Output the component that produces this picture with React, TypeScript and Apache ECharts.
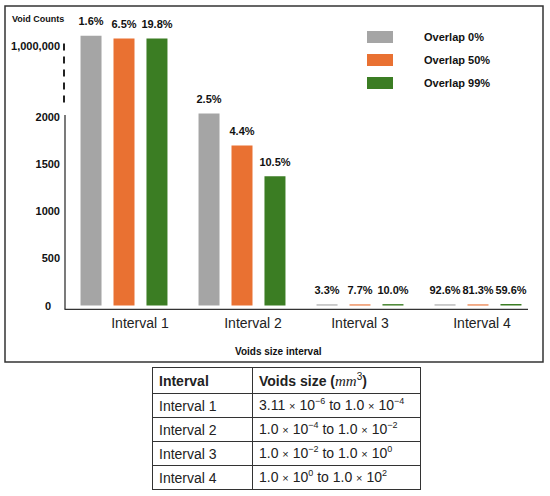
import React, { useEffect, useRef } from 'react';
import * as echarts from 'echarts';

// ---------- data ----------
const categories = ['Interval 1', 'Interval 2', 'Interval 3', 'Interval 4'];
const seriesNames = ['Overlap 0%', 'Overlap 50%', 'Overlap 99%'];
const overlap0 = [1000115, 2037, 12, 12];
const overlap50 = [1000085, 1698, 12, 12];
const overlap99 = [1000085, 1370, 15, 15];
const overlap0Pct = ['1.6%', '2.5%', '3.3%', '92.6%'];
const overlap50Pct = ['6.5%', '4.4%', '7.7%', '81.3%'];
const overlap99Pct = ['19.8%', '10.5%', '10.0%', '59.6%'];
const yTickValues = [0, 500, 1000, 1500, 2000, 1000000];
const yAxisName = 'Void Counts';
const xAxisName = 'Voids size interval';

// axis range and break (values)
const Y_MIN = -40;
const Y_MAX = 1000125;
const BREAK_START = 2150;
const BREAK_END = 999950;
const AXIS_SOLID_END = 2020;
const DASH_FROM = 2120;
const DASH_TO = 1000032;

// table
const tableHeadInterval = 'Interval';
const tableHeadSize = 'Voids size';
const tableIntervals = ['Interval 1', 'Interval 2', 'Interval 3', 'Interval 4'];
const rangeFromMantissa = ['3.11', '1.0', '1.0', '1.0'];
const rangeFromExponent = ['−6', '−4', '−2', '0'];
const rangeToMantissa = ['1.0', '1.0', '1.0', '1.0'];
const rangeToExponent = ['−4', '−2', '0', '2'];

const COLORS = ['#a5a5a5', '#e97132', '#3b7d23'];
const FONT = "'Liberation Sans', Arial, Helvetica, sans-serif";

function makeSeries(name: string, values: number[], pct: string[], color: string) {
  return {
    name,
    type: 'bar',
    data: values,
    barWidth: 21,
    barGap: '57%',
    itemStyle: { color },
    label: {
      show: true,
      position: 'top',
      distance: 9,
      fontSize: 11,
      fontWeight: 'bold',
      color: '#111',
      fontFamily: FONT,
      formatter: (p: any) => pct[p.dataIndex],
    },
  };
}

const labelShift = [32, 22, 0, 8];

function buildOption(): any {
  const rich: any = {};
  labelShift.forEach((s, i) => {
    rich['p' + i] = { padding: [0, 0, 0, s], fontSize: 14, color: '#222', fontFamily: FONT };
  });
  const yRich = {
    z: { padding: [0, 9, 0, 0], fontSize: 11, fontWeight: 'bold', color: '#111', fontFamily: FONT },
  };
  return {
    animation: false,
    textStyle: { fontFamily: FONT },
    title: [
      {
        text: yAxisName,
        left: 12,
        top: 14,
        padding: 0,
        textStyle: { fontSize: 9, fontWeight: 'bold', color: '#111', fontFamily: FONT },
      },
      {
        text: xAxisName,
        left: 235,
        top: 346,
        padding: 0,
        textStyle: { fontSize: 10, fontWeight: 'bold', color: '#111', fontFamily: FONT },
      },
    ],
    legend: {
      orient: 'vertical',
      left: 367,
      top: 31,
      padding: 0,
      itemWidth: 26,
      itemHeight: 12,
      itemGap: 11,
      icon: 'rect',
      data: seriesNames,
      textStyle: {
        fontSize: 11,
        fontWeight: 'bold',
        color: '#111',
        fontFamily: FONT,
        padding: [0, 0, 0, 26],
      },
    },
    grid: {
      left: 65,
      right: 13,
      top: 34.7,
      bottom: 186.7,
      containLabel: false,
      outerBoundsMode: 'none',
    },
    xAxis: {
      type: 'category',
      data: categories,
      axisLine: { show: false },
      axisTick: { show: false },
      axisLabel: {
        margin: 7,
        fontSize: 14,
        color: '#222',
        formatter: (v: string, i: number) => `{p${i}|${v}}`,
        rich,
      },
    },
    yAxis: {
      type: 'value',
      min: Y_MIN,
      max: Y_MAX,
      breaks: [{ start: BREAK_START, end: BREAK_END, gap: '18.8%' }],
      breakArea: { show: false },
      axisLine: { show: false },
      axisTick: { show: false },
      splitLine: { show: false },
      axisLabel: {
        customValues: yTickValues,
        margin: 5,
        fontSize: 11,
        fontWeight: 'bold',
        color: '#111',
        fontFamily: FONT,
        formatter: (v: number) =>
          v === 0 ? '{z|0}' : v >= 100000 ? v.toLocaleString('en-US') : String(v),
        rich: yRich,
      },
    },
    series: [
      makeSeries(seriesNames[0], overlap0, overlap0Pct, COLORS[0]),
      makeSeries(seriesNames[1], overlap50, overlap50Pct, COLORS[1]),
      makeSeries(seriesNames[2], overlap99, overlap99Pct, COLORS[2]),
    ],
  };
}

function Exp({ m, e }: { m: string; e: string }) {
  return (
    <span style={{ fontFamily: FONT }}>
      {m} <span style={{ fontSize: 11, fontFamily: FONT }}>×</span> 10
      <span style={{ fontSize: 9, position: 'relative', top: -6, lineHeight: 0, fontFamily: FONT }}>{e}</span>
    </span>
  );
}

export default function App() {
  const ref = useRef<HTMLDivElement>(null);

  useEffect(() => {
    if (!ref.current) return;
    const chart = echarts.init(ref.current, null, { renderer: 'svg' });
    chart.setOption(buildOption());
    const y = (v: number) => chart.convertToPixel({ yAxisIndex: 0 } as any, v) as number;
    chart.setOption({
      graphic: [
        {
          type: 'rect',
          shape: { x: 5, y: 6, width: 538, height: 356 },
          style: { fill: 'none', stroke: '#333', lineWidth: 1.5 },
          silent: true,
        },
        {
          type: 'line',
          shape: { x1: 64.5, y1: y(Y_MIN), x2: 528, y2: y(Y_MIN) },
          style: { stroke: '#333', lineWidth: 1.3 },
          silent: true,
        },
        {
          type: 'line',
          shape: { x1: 65, y1: y(Y_MIN), x2: 65, y2: y(AXIS_SOLID_END) },
          style: { stroke: '#333', lineWidth: 1.3 },
          silent: true,
        },
        {
          type: 'line',
          shape: { x1: 64, y1: y(DASH_TO), x2: 64, y2: y(DASH_FROM) },
          style: { stroke: '#222', lineWidth: 2, lineDash: [7, 6] },
          silent: true,
        },
      ],
    });
    return () => chart.dispose();
  }, []);

  const cell: React.CSSProperties = {
    border: '1px solid #333',
    padding: '0 0 0 6px',
    textAlign: 'left',
    verticalAlign: 'middle',
    whiteSpace: 'nowrap',
    lineHeight: '16px',
    fontFamily: FONT,
    fontSize: 14,
    color: '#222',
  };

  return (
    <div style={{ position: 'absolute', left: 0, top: 0, width: 550, height: 496, background: '#fff' }}>
      <div ref={ref} style={{ position: 'absolute', left: 0, top: 0, width: 550, height: 496 }} />
      <table
        style={{
          position: 'absolute',
          left: 152,
          top: 367,
          width: 268,
          borderCollapse: 'collapse',
          tableLayout: 'fixed',
          fontFamily: FONT,
          fontSize: 14,
          color: '#222',
        }}
      >
        <colgroup>
          <col style={{ width: 100 }} />
          <col style={{ width: 168 }} />
        </colgroup>
        <tbody>
          <tr style={{ height: 26 }}>
            <td style={{ ...cell, fontWeight: 'bold' }}>{tableHeadInterval}</td>
            <td style={{ ...cell, fontWeight: 'bold' }}>
              {tableHeadSize}{' '}
              (
              <i style={{ fontFamily: "'Liberation Serif', 'DejaVu Serif', serif", fontWeight: 'normal', fontSize: 15 }}>mm</i>
              <span style={{ fontSize: 10, position: 'relative', top: -6, lineHeight: 0, fontWeight: 'normal' }}>3</span>)
            </td>
          </tr>
          {tableIntervals.map((name, i) => (
            <tr key={name} style={{ height: 24 }}>
              <td style={cell}>{name}</td>
              <td style={cell}>
                <Exp m={rangeFromMantissa[i]} e={rangeFromExponent[i]} /> to{' '}
                <Exp m={rangeToMantissa[i]} e={rangeToExponent[i]} />
              </td>
            </tr>
          ))}
        </tbody>
      </table>
    </div>
  );
}
